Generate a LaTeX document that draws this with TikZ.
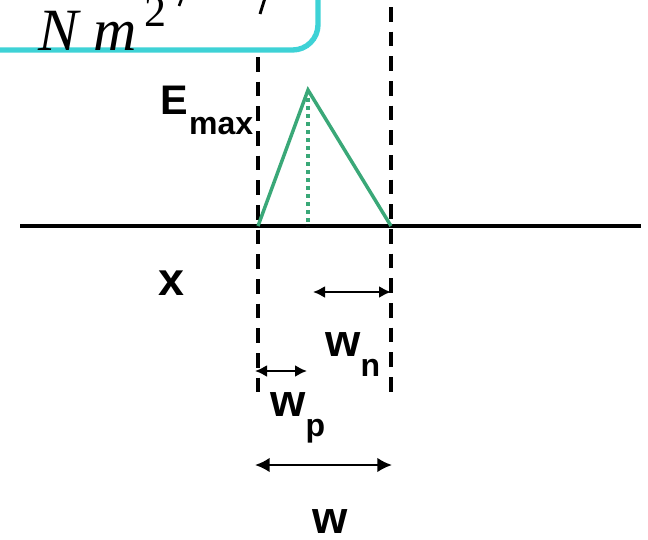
\documentclass[tikz,border=0pt]{standalone}
\usepackage{fontspec}
\setmainfont{Liberation Sans}
\newfontfamily\formfont{Liberation Serif}
\usetikzlibrary{arrows.meta}
\definecolor{boxcyan}{RGB}{62,210,214}
\definecolor{fieldgreen}{RGB}{58,168,120}
\tikzset{
  axis/.style   = {line width=3.5pt},
  edge/.style   = {line width=3pt, dash pattern=on 11pt off 7.5pt},
  field/.style  = {draw=fieldgreen, line width=2.6pt},
  peak/.style   = {draw=fieldgreen, line width=2.4pt, dash pattern=on 3pt off 3pt},
  dim/.style    = {line width=1.6pt, {Latex[length=9pt,width=9pt]}-{Latex[length=9pt,width=9pt]}},
  dimL/.style   = {line width=1.8pt, {Latex[length=11pt,width=11pt]}-{Latex[length=11pt,width=11pt]}},
  lbl/.style    = {inner sep=0pt, anchor=base west, font=\bfseries\fontsize{34}{34}\selectfont},
}
\newcommand{\lowsub}[1]{\raisebox{-15pt}{\fontsize{24}{24}\selectfont #1}}

\begin{document}
\begin{tikzpicture}[x=0.75pt, y=-0.75pt]
  \useasboundingbox (0,0) rectangle (648,539);
  \clip (0,0) rectangle (648,539);

  %% Boxed formula, cut off at the top left
  \draw[draw=boxcyan, line width=4pt, rounded corners=19pt] (-20,50) -- (318,50) -- (318,-30);
  \draw[line width=2pt] (182,-2) -- (179,6);
  \draw[line width=2.2pt] (265,-2) -- (260,14);
  \node[inner sep=0pt, anchor=base west, font=\formfont\fontsize{45}{45}\selectfont] (form) at (38,50)
       {\itshape N m\kern6pt\raisebox{18pt}{\upshape\fontsize{33}{33}\selectfont 2}};

  %% Edges of the depletion region
  \coordinate (pTop) at (258,57);
  \coordinate (pBot) at (258,392);
  \coordinate (nTop) at (391,7);
  \coordinate (nBot) at (391,396);
  \draw[edge] (pTop) -- (pBot);
  \draw[edge] (nTop) -- (nBot);

  %% Axis
  \coordinate (axL) at (20,226);
  \coordinate (axR) at (641,226);
  \draw[axis] (axL) -- (axR);

  %% Field triangle
  \coordinate (xp)  at (258,226);
  \coordinate (xn)  at (391,226);
  \coordinate (xm)  at (308,226);
  \coordinate (top) at (308,90);
  \draw[field, line join=miter] (xp) -- (top) -- (xn);
  \draw[peak] (top) -- (xm);

  %% Labels
  \node[lbl, font=\bfseries\fontsize{31}{31}\selectfont] (emax) at (160,114) {E\kern1pt\lowsub{max}};
  \node[lbl, font=\bfseries\fontsize{35}{35}\selectfont] (xlab) at (158,295) {x};

  %% Widths
  \coordinate (wnL) at (313,292);
  \coordinate (wnR) at (391,292);
  \draw[dim] (wnL) -- (wnR);
  \node[lbl] (wn) at (325,356) {w\lowsub{n}};

  \coordinate (wpL) at (255,371);
  \coordinate (wpR) at (307,371);
  \draw[dim] (wpL) -- (wpR);
  \node[lbl] (wp) at (270,416) {w\lowsub{p}};

  \coordinate (wL) at (255,465);
  \coordinate (wR) at (392,465);
  \draw[dimL] (wL) -- (wR);
  \node[lbl] (w) at (312,533) {w};

\end{tikzpicture}
\end{document}
